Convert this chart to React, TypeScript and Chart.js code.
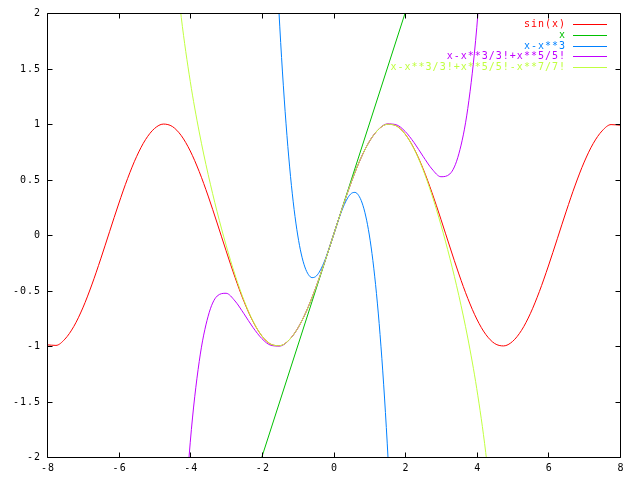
import { useEffect, useRef } from "react";
import { Chart, registerables } from "chart.js";

Chart.register(...registerables);

const seriesLabels = ["sin(x)", "x", "x-x**3", "x-x**3/3!+x**5/5!", "x-x**3/3!+x**5/5!-x**7/7!"];
const seriesColors = ["#ff0000", "#00c000", "#0080ff", "#c000ff", "#c0ff40"];

const xTicks = [-8, -6, -4, -2, 0, 2, 4, 6, 8];
const xTickLabels = ["-8", "-6", "-4", "-2", "0", "2", "4", "6", "8"];
const yTicks = [-2, -1.5, -1, -0.5, 0, 0.5, 1, 1.5, 2];
const yTickLabels = ["-2", "-1.5", "-1", "-0.5", "0", "0.5", "1", "1.5", "2"];

const sinX = [-8, -7.75, -7.5, -7.25, -7, -6.75, -6.5, -6.25, -6, -5.75, -5.5, -5.25, -5, -4.75, -4.5, -4.25, -4, -3.75, -3.5, -3.25, -3, -2.75, -2.5, -2.25, -2, -1.75, -1.5, -1.25, -1, -0.75, -0.5, -0.25, 0, 0.25, 0.5, 0.75, 1, 1.25, 1.5, 1.75, 2, 2.25, 2.5, 2.75, 3, 3.25, 3.5, 3.75, 4, 4.25, 4.5, 4.75, 5, 5.25, 5.5, 5.75, 6, 6.25, 6.5, 6.75, 7, 7.25, 7.5, 7.75, 8];
const sinY = [-0.9894, -0.9946, -0.938, -0.8231, -0.657, -0.45, -0.2151, 0.0332, 0.2794, 0.5083, 0.7055, 0.8589, 0.9589, 0.9993, 0.9775, 0.895, 0.7568, 0.5716, 0.3508, 0.1082, -0.1411, -0.3817, -0.5985, -0.7781, -0.9093, -0.984, -0.9975, -0.949, -0.8415, -0.6816, -0.4794, -0.2474, 0, 0.2474, 0.4794, 0.6816, 0.8415, 0.949, 0.9975, 0.984, 0.9093, 0.7781, 0.5985, 0.3817, 0.1411, -0.1082, -0.3508, -0.5716, -0.7568, -0.895, -0.9775, -0.9993, -0.9589, -0.8589, -0.7055, -0.5083, -0.2794, -0.0332, 0.2151, 0.45, 0.657, 0.8231, 0.938, 0.9946, 0.9894];

const lineX = [-8, 8];
const lineY = [-8, 8];

const cubicX = [-1.6, -1.5, -1.4, -1.3, -1.2, -1.1, -1, -0.9, -0.8, -0.7, -0.6, -0.5, -0.4, -0.3, -0.2, -0.1, 0, 0.1, 0.2, 0.3, 0.4, 0.5, 0.6, 0.7, 0.8, 0.9, 1, 1.1, 1.2, 1.3, 1.4, 1.5, 1.6];
const cubicY = [2.496, 1.875, 1.344, 0.897, 0.528, 0.231, 0, -0.171, -0.288, -0.357, -0.384, -0.375, -0.336, -0.273, -0.192, -0.099, 0, 0.099, 0.192, 0.273, 0.336, 0.375, 0.384, 0.357, 0.288, 0.171, 0, -0.231, -0.528, -0.897, -1.344, -1.875, -2.496];

const quinticX = [-4.25, -4, -3.75, -3.5, -3.25, -3, -2.75, -2.5, -2.25, -2, -1.75, -1.5, -1.25, -1, -0.75, -0.5, -0.25, 0, 0.25, 0.5, 0.75, 1, 1.25, 1.5, 1.75, 2, 2.25, 2.5, 2.75, 3, 3.25, 3.5, 3.75, 4, 4.25];
const quinticY = [-3.0105, -1.8667, -1.1407, -0.731, -0.5502, -0.525, -0.5945, -0.7096, -0.8321, -0.9333, -0.9935, -1.0008, -0.9499, -0.8417, -0.6817, -0.4794, -0.2474, 0, 0.2474, 0.4794, 0.6817, 0.8417, 0.9499, 1.0008, 0.9935, 0.9333, 0.8321, 0.7096, 0.5945, 0.525, 0.5502, 0.731, 1.1407, 1.8667, 3.0105];

const septicX = [-4.5, -4.25, -4, -3.75, -3.5, -3.25, -3, -2.75, -2.5, -2.25, -2, -1.75, -1.5, -1.25, -1, -0.75, -0.5, -0.25, 0, 0.25, 0.5, 0.75, 1, 1.25, 1.5, 1.75, 2, 2.25, 2.5, 2.75, 3, 3.25, 3.5, 3.75, 4, 4.25, 4.5];
const septicY = [2.7242, 1.9587, 1.3841, 0.9284, 0.5456, 0.2097, -0.0911, -0.3585, -0.5885, -0.7742, -0.9079, -0.9835, -0.9974, -0.949, -0.8415, -0.6816, -0.4794, -0.2474, 0, 0.2474, 0.4794, 0.6816, 0.8415, 0.949, 0.9974, 0.9835, 0.9079, 0.7742, 0.5885, 0.3585, 0.0911, -0.2097, -0.5456, -0.9284, -1.3841, -1.9587, -2.7242];

const seriesXs = [sinX, lineX, cubicX, quinticX, septicX];
const seriesYs = [sinY, lineY, cubicY, quinticY, septicY];

const FONT = "10px 'DejaVu Sans Mono', 'Liberation Mono', monospace";

const framePlugin = {
  id: "gnuplotFrame",
  afterDraw(chart: any) {
    const ctx = chart.ctx as CanvasRenderingContext2D;
    const a = chart.chartArea;
    const xs = chart.scales.x;
    const ys = chart.scales.y;
    const L = Math.round(a.left) + 0.5;
    const R = Math.round(a.right) + 0.5;
    const T = Math.round(a.top) + 0.5;
    const B = Math.round(a.bottom) + 0.5;
    ctx.save();
    ctx.strokeStyle = "#000";
    ctx.lineWidth = 1;
    ctx.beginPath();
    ctx.rect(L, T, R - L, B - T);
    ctx.stroke();
    const tl = 5;
    ctx.beginPath();
    xTicks.forEach((v) => {
      const p = Math.round(xs.getPixelForValue(v)) + 0.5;
      ctx.moveTo(p, B);
      ctx.lineTo(p, B - tl);
      ctx.moveTo(p, T);
      ctx.lineTo(p, T + tl);
    });
    yTicks.forEach((v) => {
      const p = Math.round(ys.getPixelForValue(v)) + 0.5;
      ctx.moveTo(L, p);
      ctx.lineTo(L + tl, p);
      ctx.moveTo(R, p);
      ctx.lineTo(R - tl, p);
    });
    ctx.stroke();

    ctx.font = FONT;
    (ctx as any).letterSpacing = "1px";
    ctx.fillStyle = "#000";
    ctx.textBaseline = "middle";
    ctx.textAlign = "center";
    xTicks.forEach((v, i) => {
      const p = xs.getPixelForValue(v);
      ctx.fillText(xTickLabels[i], p + 1, 468);
    });
    ctx.textAlign = "right";
    yTicks.forEach((v, i) => {
      const p = ys.getPixelForValue(v);
      ctx.fillText(yTickLabels[i], 41, p + 0.5);
    });

    seriesLabels.forEach((lab, i) => {
      const y = 24 + i * 10.75;
      ctx.fillStyle = seriesColors[i];
      ctx.fillText(lab, 566, y + 0.5);
      ctx.strokeStyle = seriesColors[i];
      ctx.beginPath();
      const yy = Math.round(y) + 0.5;
      ctx.moveTo(573, yy);
      ctx.lineTo(607, yy);
      ctx.stroke();
    });
    ctx.restore();
  },
};

export default function App() {
  const ref = useRef<HTMLCanvasElement | null>(null);
  useEffect(() => {
    if (!ref.current) return;
    const datasets = seriesLabels.map((label, i) => ({
      label,
      data: seriesXs[i].map((x, j) => ({ x, y: seriesYs[i][j] })),
      borderColor: seriesColors[i],
      backgroundColor: seriesColors[i],
      borderWidth: 1,
      pointRadius: 0,
      cubicInterpolationMode: i === 1 ? "default" : "monotone",
      fill: false,
      order: seriesLabels.length - i,
    }));
    const chart = new Chart(ref.current, {
      type: "line",
      data: { datasets } as any,
      options: {
        responsive: false,
        animation: false,
        devicePixelRatio: 1,
        layout: { padding: { left: 47, right: 20, top: 13, bottom: 23 } },
        scales: {
          x: { type: "linear", min: -8, max: 8, display: false },
          y: { type: "linear", min: -2, max: 2, display: false },
        },
        plugins: { legend: { display: false }, tooltip: { enabled: false } },
      },
      plugins: [framePlugin],
    });
    return () => chart.destroy();
  }, []);
  return (
    <div style={{ position: "absolute", left: 0, top: 0, width: 640, height: 480, background: "#fff" }}>
      <canvas ref={ref} width={640} height={480} style={{ width: 640, height: 480 }} />
    </div>
  );
}
